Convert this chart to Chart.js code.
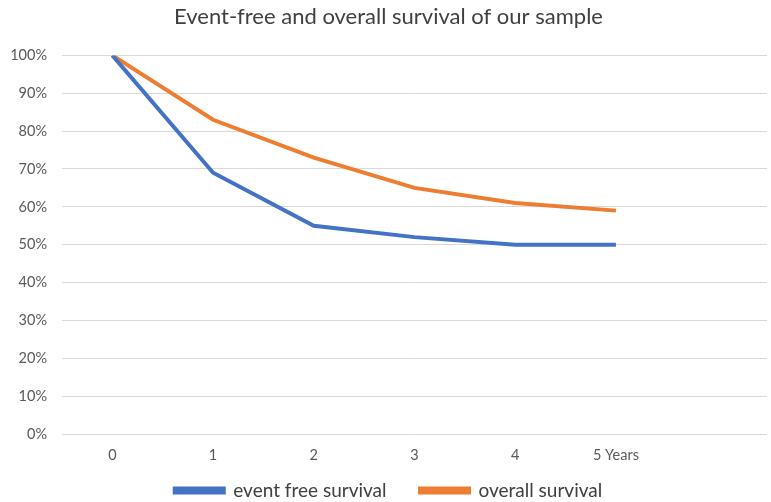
<!DOCTYPE html>
<html lang="en">
<head>
    <meta charset="UTF-8">
    <title>Event-free and overall survival</title>
    <script src="https://cdn.jsdelivr.net/npm/chart.js"></script>
    <style>
        body { margin: 0; background: #fff; }
        #wrap { width: 771px; height: 502px; }
    </style>
</head>
<body>
    <div id="wrap">
        <canvas id="survivalChart" width="771" height="502"></canvas>
    </div>

    <script>
        // Values (fraction surviving per year)
        const years = ['0', '1', '2', '3', '4', '5 Years', ''];
        const eventFree = [1.00, 0.69, 0.55, 0.52, 0.50, 0.50, null];
        const overall = [1.00, 0.83, 0.73, 0.65, 0.61, 0.59, null];

        const font = 'Lato, "Open Sans", "Liberation Sans", sans-serif';

        const ctx = document.getElementById('survivalChart').getContext('2d');
        new Chart(ctx, {
            type: 'line',
            data: {
                labels: years,
                datasets: [{
                    label: 'event free survival',
                    data: eventFree,
                    borderColor: '#4472C4',
                    backgroundColor: '#4472C4',
                    borderWidth: 4,
                    pointRadius: 0,
                    fill: false
                }, {
                    label: 'overall survival',
                    data: overall,
                    borderColor: '#ED7D31',
                    backgroundColor: '#ED7D31',
                    borderWidth: 4,
                    pointRadius: 0,
                    fill: false
                }]
            },
            options: {
                responsive: false,
                maintainAspectRatio: false,
                animation: false,
                layout: { padding: { left: 10, right: 4, top: 4, bottom: -8 } },
                plugins: {
                    title: {
                        display: true,
                        text: 'Event-free and overall survival of our sample',
                        color: '#404040',
                        font: { family: font, size: 22, weight: 'normal' },
                        padding: { top: 0, bottom: 25 }
                    },
                    legend: {
                        position: 'bottom',
                        labels: {
                            color: '#404040',
                            font: { family: font, size: 19 },
                            boxWidth: 49,
                            boxHeight: 4,
                            padding: 14,
                            // a little extra room after the first entry
                            generateLabels: (chart) => {
                                const items = Chart.defaults.plugins.legend.labels.generateLabels(chart);
                                items[0].text += '    ';
                                return items;
                            }
                        }
                    },
                    tooltip: { enabled: false }
                },
                scales: {
                    x: {
                        offset: true,
                        afterFit: (scale) => { scale.height = 33; },
                        grid: { display: false },
                        border: { display: false },
                        ticks: {
                            color: '#595959',
                            font: { family: font, size: 14.5 },
                            maxRotation: 0,
                            padding: 5
                        }
                    },
                    y: {
                        min: 0,
                        max: 1,
                        afterFit: (scale) => { scale.width = 52; },
                        grid: { color: '#D9D9D9', lineWidth: 1, drawTicks: false },
                        border: { display: false },
                        ticks: {
                            stepSize: 0.1,
                            color: '#595959',
                            font: { family: font, size: 14.5 },
                            padding: 15,
                            callback: (v) => Math.round(v * 100) + '%'
                        }
                    }
                }
            }
        });
    </script>
</body>
</html>
